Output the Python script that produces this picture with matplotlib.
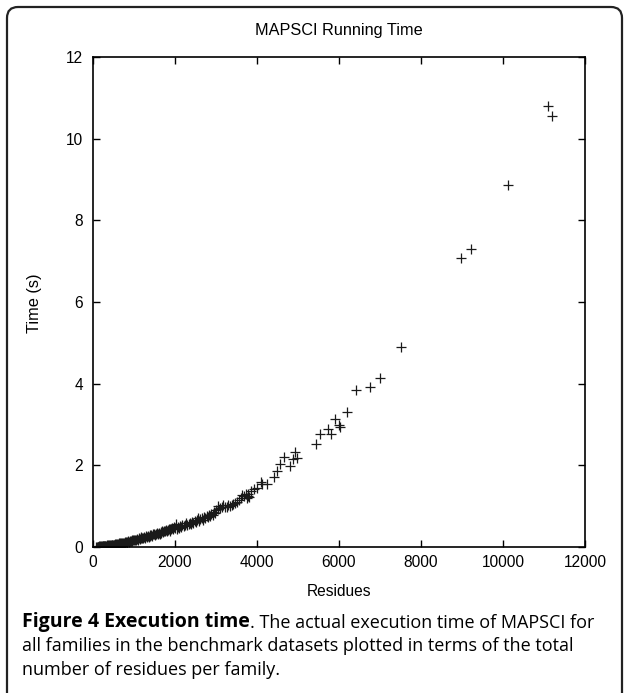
#MAPSCI running time vs number of residues, with the figure caption underneath
import numpy as np
import matplotlib
matplotlib.use("Agg")
from matplotlib import pyplot as plt
from matplotlib.patches import FancyBboxPatch
from matplotlib.transforms import IdentityTransform

#residues per family and running time (s)
residues = [
    85, 95, 110, 120, 130, 140, 150, 160, 170, 180, 195, 205, 215, 230, 240, 250, 265,
    280, 290, 300, 315, 330, 345, 360, 370, 385, 400, 415, 430, 445, 460, 475, 490,
    505, 520, 535, 550, 565, 580, 600, 615, 630, 650, 665, 680, 700, 715, 730, 750,
    770, 785, 800, 820, 840, 860, 880, 900, 920, 940, 960, 980,
    1000, 1020, 1045, 1070, 1090, 1110, 1135, 1160, 1180, 1200, 1225, 1250, 1270, 1290,
    1310, 1335, 1360, 1380, 1400, 1425, 1450, 1470, 1490,
    1510, 1535, 1560, 1580, 1600, 1625, 1650, 1670, 1690, 1710, 1735, 1760, 1780, 1800,
    1825, 1850, 1870, 1890, 1910, 1935, 1960, 1980,
    2000, 2030, 2050, 2080, 2100, 2130, 2150, 2180, 2210, 2240, 2270, 2300, 2330, 2360,
    2390, 2420, 2450, 2480,
    2510, 2540, 2560, 2590, 2620, 2650, 2680, 2710, 2740, 2770, 2800, 2830, 2860, 2890,
    2920, 2950, 2980,
    3010, 3050, 3060, 3100, 3140, 3180, 3220, 3260, 3300, 3340, 3380, 3420, 3460, 3505,
    3560, 3600, 3626, 3680, 3720, 3748, 3770, 3788, 3810, 3860, 3935, 3990,
    4090, 4130, 4236, 4422, 4488, 4569, 4666, 4797, 4870, 4927, 4976,
    5432, 5544, 5732, 5805, 5910, 5993, 6024, 6203, 6407, 6764, 7008, 7512,
    8983, 9227, 10130, 11100, 11190,
]
run_time = [
    0.00, 0.01, 0.00, 0.01, 0.01, 0.00, 0.02, 0.01, 0.01, 0.02, 0.01, 0.02, 0.01, 0.02, 0.03, 0.02, 0.02,
    0.03, 0.02, 0.03, 0.03, 0.04, 0.02, 0.03, 0.04, 0.03, 0.05, 0.04, 0.03, 0.05, 0.04, 0.06, 0.05,
    0.05, 0.06, 0.07, 0.05, 0.07, 0.08, 0.06, 0.08, 0.09, 0.07, 0.09, 0.10, 0.08, 0.10, 0.11, 0.09,
    0.12, 0.10, 0.13, 0.11, 0.12, 0.14, 0.13, 0.15, 0.14, 0.16, 0.15, 0.17,
    0.16, 0.18, 0.17, 0.20, 0.18, 0.21, 0.19, 0.22, 0.24, 0.21, 0.23, 0.25, 0.22, 0.26,
    0.24, 0.27, 0.25, 0.29, 0.27, 0.30, 0.28, 0.31, 0.33,
    0.30, 0.32, 0.34, 0.31, 0.35, 0.33, 0.37, 0.35, 0.38, 0.36, 0.40, 0.38, 0.42, 0.39,
    0.41, 0.44, 0.40, 0.45, 0.43, 0.47, 0.44, 0.49,
    0.46, 0.56, 0.45, 0.50, 0.47, 0.52, 0.49, 0.55, 0.51, 0.54, 0.58, 0.53, 0.57, 0.60,
    0.56, 0.62, 0.59, 0.64,
    0.61, 0.66, 0.70, 0.63, 0.68, 0.72, 0.66, 0.74, 0.70, 0.76, 0.73, 0.78, 0.75, 0.82,
    0.79, 0.86, 0.83,
    0.90, 1.00, 0.93, 0.95, 0.98, 1.02, 0.97, 0.99, 1.04, 1.01, 1.03, 1.06, 1.08, 1.11,
    1.15, 1.20, 1.27, 1.24, 1.30, 1.19, 1.25, 1.31, 1.22, 1.36, 1.41, 1.45,
    1.60, 1.55, 1.54, 1.72, 1.87, 2.03, 2.20, 1.99, 2.15, 2.33, 2.19,
    2.52, 2.76, 2.88, 2.77, 3.14, 3.00, 2.93, 3.31, 3.85, 3.93, 4.15, 4.89,
    7.08, 7.29, 8.86, 10.81, 10.56,
]

x_ticks = [0, 2000, 4000, 6000, 8000, 10000, 12000]
y_ticks = [0, 2, 4, 6, 8, 10, 12]

title = "MAPSCI Running Time"
x_label = "Residues"
y_label = "Time (s)"
caption_bold = "Figure 4 Execution time"
caption_rest = ". The actual execution time of MAPSCI for"
caption_lines = [
    "all families in the benchmark datasets plotted in terms of the total",
    "number of residues per family.",
]

W, H = 624, 693
plt.rcParams['font.family'] = ['Liberation Sans', 'DejaVu Sans']
fig = plt.figure(figsize=(W / 100, H / 100), dpi=100)
ax = fig.add_axes([93 / W, 1 - 547 / H, (585 - 93) / W, (547 - 57) / H])

ax.plot(residues, run_time, linestyle='none', marker='+', markersize=7.5,
        markeredgewidth=0.9, color='#1a1a1a')

ax.set_xlim(0, 12000)
ax.set_ylim(0, 12)
ax.set_xticks(x_ticks)
ax.set_yticks(y_ticks)
ax.tick_params(direction='in', length=5, width=1, top=True, right=True,
               labelsize=11.2, colors='black')
ax.tick_params(axis='x', pad=6)
ax.tick_params(axis='y', pad=7)
for s in ax.spines.values():
    s.set_linewidth(1.2)

fig.text(339 / W, 1 - 31 / H, title, ha='center', va='center', fontsize=11.7)
fig.text(339 / W, 1 - 591 / H, x_label, ha='center', va='center', fontsize=11.2)
fig.text(35 / W, 1 - 303 / H, y_label, ha='center', va='center', fontsize=11.8,
         rotation=90)

#caption under the chart
cap_font = ['Open Sans', 'DejaVu Sans']
t_bold = fig.text(22 / W, 1 - 627 / H, caption_bold, ha='left', va='baseline',
                  fontsize=14, fontweight='bold', family=cap_font)
ax.annotate(caption_rest, xy=(1, 0), xycoords=t_bold, ha='left', va='bottom',
            fontsize=13, family=cap_font, annotation_clip=False)
for i, line in enumerate(caption_lines):
    fig.text(22 / W, 1 - (651 + 24 * i) / H, line, ha='left', va='baseline',
             fontsize=13, family=cap_font)

#rounded frame around everything, bottom edge runs off the image
frame = FancyBboxPatch((7, -30), 615, 716, boxstyle="round,pad=0,rounding_size=11",
                       transform=IdentityTransform(), fill=False, lw=1.6,
                       edgecolor='#222222')
fig.patches.append(frame)

fig.savefig("out.png", dpi=100)
